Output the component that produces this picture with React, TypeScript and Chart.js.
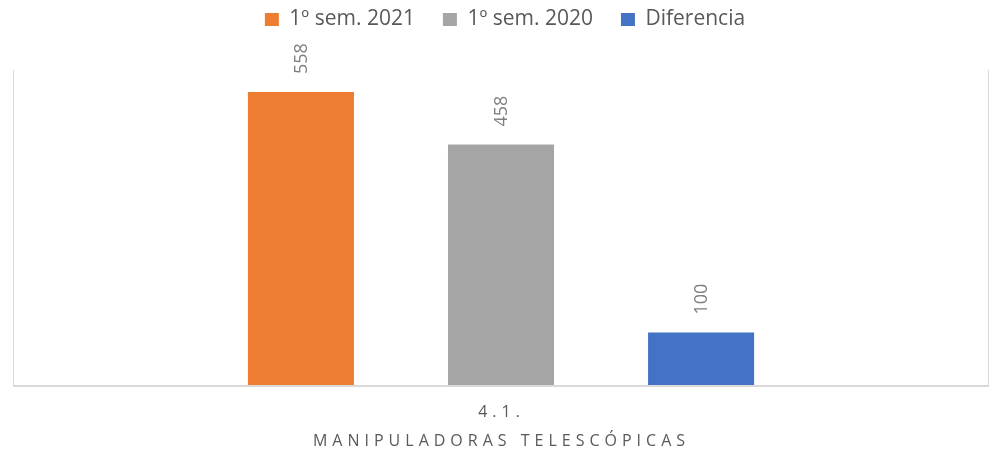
import React, { useEffect, useRef } from "react";
import { Chart, registerables } from "chart.js";

Chart.register(...registerables);

const categories = ["4.1. MANIPULADORAS TELESCÓPICAS"];
const categoryLines = ["4.1.", "MANIPULADORAS TELESCÓPICAS"];
const seriesNames = ["1º sem. 2021", "1º sem. 2020", "Diferencia"];
const series2021 = [558];
const series2020 = [458];
const seriesDiff = [100];
const seriesColors = ["#ED7D31", "#A5A5A5", "#4472C4"];
const yMax = 600;

const TEXT = "#595959";
const LINE = "#D9D9D9";
const PLOT_TOP = 70;
const LEGEND_SHIFT_Y = -19;
const LEGEND_SHIFT_X = 4;

const framePlugin = {
  id: "frame",
  beforeInit(chart: any) {
    const legend = chart.legend;
    if (legend && !legend.__wrapped) {
      const origFit = legend.fit.bind(legend);
      legend.fit = function () {
        origFit();
        this.height = PLOT_TOP;
      };
      const origDraw = legend.draw.bind(legend);
      legend.draw = function () {
        this.top += LEGEND_SHIFT_Y;
        this.left += LEGEND_SHIFT_X;
        this.right += LEGEND_SHIFT_X;
        origDraw();
        this.top -= LEGEND_SHIFT_Y;
        this.left -= LEGEND_SHIFT_X;
        this.right -= LEGEND_SHIFT_X;
      };
      legend.__wrapped = true;
    }
  },
  beforeDatasetsDraw(chart: any) {
    const { ctx, chartArea } = chart;
    const { left, right, top, bottom } = chartArea;
    ctx.save();
    ctx.strokeStyle = LINE;
    ctx.lineWidth = 1;
    ctx.beginPath();
    ctx.moveTo(Math.round(left) + 0.5, top);
    ctx.lineTo(Math.round(left) + 0.5, bottom);
    ctx.moveTo(Math.round(right) - 0.5, top);
    ctx.lineTo(Math.round(right) - 0.5, bottom);
    ctx.stroke();
    ctx.lineWidth = 2;
    ctx.beginPath();
    ctx.moveTo(left, Math.round(bottom) + 1);
    ctx.lineTo(right, Math.round(bottom) + 1);
    ctx.stroke();
    ctx.restore();
  },
  afterDatasetsDraw(chart: any) {
    const { ctx } = chart;
    ctx.save();
    ctx.fillStyle = "#7F7F7F";
    ctx.font = "18px 'Open Sans'";
    chart.data.datasets.forEach((ds: any, i: number) => {
      const meta = chart.getDatasetMeta(i);
      meta.data.forEach((bar: any, j: number) => {
        ctx.save();
        ctx.translate(bar.x + 1, bar.y - 18);
        ctx.rotate(-Math.PI / 2);
        ctx.textAlign = "left";
        ctx.textBaseline = "middle";
        ctx.fillText(String(ds.data[j]), 0, 0);
        ctx.restore();
      });
    });
    ctx.restore();
  },
  afterDraw(chart: any) {
    const { ctx, chartArea } = chart;
    const spacing = 5;
    const cx = (chartArea.left + chartArea.right) / 2 - 2 + spacing / 2;
    ctx.save();
    ctx.fillStyle = TEXT;
    ctx.font = "16px 'Open Sans'";
    ctx.textAlign = "center";
    ctx.textBaseline = "middle";
    (ctx as any).letterSpacing = spacing + "px";
    ctx.fillText(categoryLines[0], cx, chartArea.bottom + 27);
    ctx.fillText(categoryLines[1], cx, chartArea.bottom + 56);
    ctx.restore();
  },
};

export default function App() {
  const canvasRef = useRef<HTMLCanvasElement | null>(null);

  useEffect(() => {
    document.body.style.margin = "0";
    const canvas = canvasRef.current;
    if (!canvas) return;
    const chart = new Chart(canvas, {
      type: "bar",
      data: {
        labels: categories,
        datasets: [
          { label: seriesNames[0], data: series2021, backgroundColor: seriesColors[0] },
          { label: seriesNames[1], data: series2020, backgroundColor: seriesColors[1] },
          { label: seriesNames[2], data: seriesDiff, backgroundColor: seriesColors[2] },
        ],
      },
      options: {
        animation: false,
        responsive: true,
        maintainAspectRatio: false,
        layout: { padding: { left: 13, right: 5, top: 0, bottom: 68 } },
        datasets: {
          bar: { categoryPercentage: 0.615, barPercentage: 0.53 },
        },
        plugins: {
          legend: {
            position: "top",
            labels: {
              boxWidth: 14,
              boxHeight: 13,
              padding: 28,
              color: TEXT,
              font: { size: 21, family: "'Open Sans'" },
            },
          },
          tooltip: { enabled: false },
        },
        scales: {
          x: {
            display: true,
            grid: { display: false, drawTicks: false },
            border: { display: false },
            ticks: { display: false },
          },
          y: {
            display: false,
            min: 0,
            max: yMax,
          },
        },
      },
      plugins: [framePlugin],
    });
    return () => chart.destroy();
  }, []);

  return (
    <div style={{ width: 994, height: 453, position: "relative" }}>
      <canvas ref={canvasRef} />
    </div>
  );
}
